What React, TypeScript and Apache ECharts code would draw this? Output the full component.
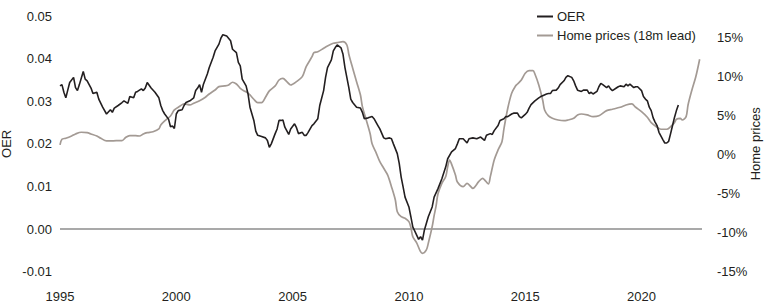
import React, { useEffect, useRef } from "react";
import * as echarts from "echarts";

// OER (left axis)
const oerDates = [
  "1995-01","1995-02","1995-03","1995-04","1995-05","1995-06","1995-08","1995-09","1995-10","1995-11",
  "1996-01","1996-02","1996-03","1996-05","1996-06","1996-08","1996-09","1996-11",
  "1997-01","1997-03","1997-04","1997-05","1997-07","1997-09","1997-10","1997-12",
  "1998-01","1998-03","1998-04","1998-05","1998-07","1998-08","1998-09","1998-10","1998-12",
  "1999-02","1999-04","1999-05","1999-06","1999-07","1999-09","1999-10","1999-11","1999-12",
  "2000-01","2000-02","2000-04","2000-05","2000-06","2000-08","2000-10","2000-11","2000-12",
  "2001-01","2001-02","2001-03","2001-05","2001-06","2001-08","2001-09","2001-11","2001-12",
  "2002-01","2002-03","2002-05","2002-06","2002-08","2002-09","2002-10","2002-11",
  "2003-01","2003-02","2003-03","2003-05","2003-06","2003-07","2003-09","2003-11","2003-12",
  "2004-01","2004-02","2004-04","2004-05","2004-06","2004-07","2004-08","2004-09","2004-11","2004-12",
  "2005-02","2005-03","2005-04","2005-06","2005-07","2005-08","2005-09","2005-11","2005-12",
  "2006-02","2006-03","2006-05","2006-06","2006-07","2006-09","2006-10","2006-11","2006-12",
  "2007-02","2007-03","2007-04","2007-06","2007-07","2007-08","2007-10","2007-12",
  "2008-01","2008-02","2008-04","2008-06","2008-07","2008-09","2008-10","2008-12",
  "2009-01","2009-03","2009-04","2009-05","2009-07","2009-08","2009-09","2009-10","2009-11",
  "2010-01","2010-02","2010-03","2010-05","2010-06","2010-07","2010-08","2010-09","2010-11",
  "2011-01","2011-02","2011-04","2011-06","2011-08","2011-09","2011-11",
  "2012-01","2012-02","2012-03","2012-05","2012-07","2012-08","2012-10","2012-12",
  "2013-02","2013-04","2013-05","2013-07","2013-08","2013-09","2013-11","2013-12",
  "2014-02","2014-03","2014-04","2014-06","2014-07","2014-09","2014-10","2014-11",
  "2015-01","2015-02","2015-03","2015-04","2015-06","2015-08","2015-09","2015-10","2015-12",
  "2016-01","2016-02","2016-03","2016-05","2016-06","2016-07","2016-09","2016-10","2016-11",
  "2017-01","2017-02","2017-03","2017-04","2017-06","2017-07","2017-09","2017-10","2017-11","2017-12",
  "2018-02","2018-03","2018-04","2018-05","2018-07","2018-08","2018-09","2018-10","2018-12",
  "2019-01","2019-02","2019-04","2019-05","2019-06","2019-07","2019-09","2019-10","2019-11",
  "2020-01","2020-02","2020-03","2020-04","2020-05","2020-06","2020-07","2020-08","2020-09","2020-10","2020-12",
  "2021-01","2021-02","2021-03","2021-04","2021-05","2021-06","2021-07","2021-08"
];
const oerValues = [
  0.0336,0.0339,0.0321,0.0308,0.0326,0.0344,0.0356,0.0332,0.0325,0.0339,
  0.0370,0.0352,0.0348,0.0331,0.0318,0.0321,0.0305,0.0286,
  0.0270,0.0280,0.0274,0.0284,0.0290,0.0297,0.0301,0.0295,
  0.0311,0.0308,0.0321,0.0323,0.0329,0.0325,0.0331,0.0344,0.0331,
  0.0321,0.0308,0.0290,0.0278,0.0270,0.0258,0.0240,0.0242,0.0236,
  0.0270,0.0278,0.0280,0.0290,0.0297,0.0301,0.0308,0.0325,0.0331,
  0.0339,0.0321,0.0340,0.0364,0.0379,0.0403,0.0418,0.0434,0.0448,
  0.0456,0.0453,0.0442,0.0422,0.0414,0.0391,0.0383,0.0352,
  0.0336,0.0317,0.0286,0.0255,0.0230,0.0220,0.0217,0.0214,0.0208,
  0.0192,0.0200,0.0224,0.0235,0.0255,0.0255,0.0256,0.0239,0.0222,0.0235,
  0.0247,0.0238,0.0224,0.0227,0.0220,0.0220,0.0227,0.0243,0.0247,
  0.0259,0.0290,0.0325,0.0356,0.0379,0.0397,0.0418,0.0426,0.0432,
  0.0425,0.0410,0.0379,0.0332,0.0305,0.0297,0.0286,0.0284,
  0.0274,0.0259,0.0261,0.0264,0.0259,0.0243,0.0235,0.0214,
  0.0212,0.0214,0.0212,0.0200,0.0177,0.0154,0.0122,0.0099,0.0075,
  0.0052,0.0029,0.0005,-0.0014,-0.0024,-0.0018,-0.0026,-0.0002,0.0029,
  0.0052,0.0075,0.0095,0.0118,0.0146,0.0165,0.0181,
  0.0189,0.0200,0.0212,0.0212,0.0202,0.0212,0.0214,0.0212,
  0.0216,0.0208,0.0220,0.0224,0.0222,0.0231,0.0243,0.0255,
  0.0259,0.0264,0.0264,0.0270,0.0272,0.0272,0.0264,0.0261,
  0.0269,0.0274,0.0284,0.0292,0.0301,0.0308,0.0311,0.0313,0.0317,
  0.0318,0.0318,0.0325,0.0326,0.0331,0.0339,0.0348,0.0356,0.0360,
  0.0356,0.0348,0.0336,0.0326,0.0323,0.0326,0.0326,0.0318,0.0321,0.0317,
  0.0323,0.0334,0.0342,0.0339,0.0332,0.0336,0.0329,0.0325,0.0331,
  0.0334,0.0336,0.0334,0.0340,0.0336,0.0340,0.0332,0.0334,0.0334,
  0.0325,0.0311,0.0305,0.0301,0.0286,0.0278,0.0261,0.0251,0.0243,0.0227,0.0210,
  0.0202,0.0202,0.0206,0.0224,0.0243,0.0262,0.0278,0.0291
];

// Home prices, 18m lead (right axis, %)
const homeDates = [
  "1995-01","1995-02","1995-04","1995-07","1995-09","1995-12","1996-03","1996-05","1996-08","1996-10",
  "1997-01","1997-03","1997-06","1997-09","1997-11","1998-01","1998-04","1998-06","1998-08","1998-10",
  "1999-01","1999-04","1999-05","1999-07","1999-10","1999-12","2000-03","2000-05","2000-08","2000-10",
  "2001-01","2001-04","2001-06","2001-09","2001-11","2002-02","2002-04","2002-06","2002-08","2002-10","2002-12",
  "2003-01","2003-03","2003-05","2003-07","2003-09","2003-11","2004-01","2004-04","2004-06","2004-08","2004-10","2004-12",
  "2005-03","2005-06","2005-08","2005-11","2005-12","2006-02","2006-05","2006-07","2006-10","2006-12",
  "2007-03","2007-05","2007-06","2007-08","2007-10","2007-12","2008-01","2008-03","2008-05","2008-06","2008-08","2008-10","2008-12",
  "2009-02","2009-04","2009-06","2009-07","2009-09","2009-11","2010-01","2010-02","2010-03","2010-05","2010-07","2010-08","2010-10","2010-11",
  "2011-01","2011-02","2011-03","2011-04","2011-06","2011-08","2011-09","2011-10","2011-11",
  "2012-01","2012-02","2012-05","2012-07","2012-10","2013-01","2013-03","2013-06","2013-07","2013-09","2013-11",
  "2014-01","2014-02","2014-04","2014-06","2014-08","2014-09","2014-11","2015-01","2015-03","2015-05","2015-06","2015-08","2015-10","2015-11",
  "2016-01","2016-03","2016-06","2016-09","2016-11","2017-02","2017-04","2017-06","2017-09","2017-12",
  "2018-03","2018-07","2018-10","2019-02","2019-05","2019-08","2019-10","2020-01","2020-04","2020-06","2020-09","2020-11",
  "2021-02","2021-04","2021-06","2021-07","2021-09","2021-10","2021-12","2022-01","2022-03","2022-05","2022-07"
];
const homeValues = [
  1.26,1.99,2.12,2.41,2.67,2.89,2.83,2.67,2.41,2.12,
  1.77,1.77,1.81,1.81,2.24,2.45,2.45,2.41,2.67,2.83,
  2.96,3.31,3.82,4.35,4.98,5.75,6.26,6.52,6.39,6.61,
  6.94,7.38,7.80,8.31,8.74,8.83,8.95,9.30,9.08,8.53,8.18,
  8.09,7.67,7.12,6.68,6.68,7.38,8.2,8.83,9.59,9.81,9.38,8.95,
  9.38,10.02,11.3,12.58,13.1,13.22,13.66,13.96,14.3,14.38,
  14.51,14.08,12.9,11.1,9.38,7.67,6.17,4.46,2.7,1.4,0.3,-0.89,-1.73,
  -2.59,-4.09,-5.8,-7.3,-7.94,-8.15,-8.58,-9.3,-10.5,-11.3,-12.43,-12.64,-12.2,-11.35,
  -9.22,-7.8,-6.6,-5.0,-3.66,-2.8,-1.53,-0.67,-1.2,
  -2.59,-3.5,-4.09,-3.66,-4.3,-3.45,-3.02,-3.75,-2.81,-0.67,0.62,
  1.68,3.3,5.96,7.89,8.83,9.08,9.59,10.45,10.79,10.79,10.36,8.95,7.03,5.75,
  4.98,4.68,4.46,4.37,4.46,4.68,5.11,5.23,5.11,4.89,
  5.0,5.66,5.84,6.09,6.39,6.52,6.09,5.53,4.81,4.12,3.53,3.27,
  3.27,3.6,4.12,4.55,4.68,4.46,4.89,6.39,8.31,10.0,12.25
];

const oerTicks = [-0.01, 0, 0.01, 0.02, 0.03, 0.04, 0.05];
const homeTicks = [-15, -10, -5, 0, 5, 10, 15];
const yearTicks = [1995, 2000, 2005, 2010, 2015, 2020];

const toYear = (s: string) => +s.slice(0, 4) + (+s.slice(5, 7) - 1) / 12;

const FONT = "'Liberation Sans', Arial, sans-serif";
const TXT = "#231f20";

export default function App() {
  const ref = useRef<HTMLDivElement>(null);
  useEffect(() => {
    if (!ref.current) return;
    const chart = echarts.init(ref.current, null, { renderer: "svg" });
    const textStyle = { color: TXT, fontSize: 13, fontFamily: FONT };
    chart.setOption({
      animation: false,
      textStyle: { fontFamily: FONT },
      grid: { left: 60, right: 63, top: 16, bottom: 36.3, containLabel: false, outerBoundsMode: "none" },
      legend: {
        orient: "vertical",
        left: 532,
        top: 5,
        itemWidth: 16,
        itemHeight: 2,
        itemGap: 6,
        icon: "rect",
        textStyle: { ...textStyle, padding: [0, 0, 0, -1] },
        data: ["OER", "Home prices (18m lead)"],
      },
      xAxis: {
        type: "value",
        min: yearTicks[0],
        max: 2022.6,
        interval: 5,
        axisLine: { show: false },
        axisTick: { show: false },
        splitLine: { show: false },
        axisLabel: {
          ...textStyle,
          margin: 18,
          showMaxLabel: false,
          formatter: (v: number) => (yearTicks.includes(Math.round(v)) && Math.abs(v - Math.round(v)) < 1e-6 ? String(Math.round(v)) : ""),
        },
      },
      yAxis: [
        {
          type: "value",
          position: "left",
          min: oerTicks[0],
          max: oerTicks[oerTicks.length - 1],
          interval: 0.01,
          name: "OER",
          nameLocation: "middle",
          nameGap: 47,
          nameRotate: 90,
          nameMoveOverlap: false,
          nameTextStyle: textStyle,
          axisLine: { show: false },
          axisTick: { show: false },
          splitLine: { show: false },
          axisLabel: { ...textStyle, margin: 8, formatter: (v: number) => v.toFixed(2) },
        },
        {
          type: "value",
          position: "right",
          min: homeTicks[0],
          max: 17.8,
          interval: 5,
          name: "Home prices",
          nameLocation: "middle",
          nameGap: 47,
          nameRotate: 90,
          nameMoveOverlap: false,
          nameTextStyle: textStyle,
          axisLine: { show: false },
          axisTick: { show: false },
          splitLine: { show: false },
          axisLabel: {
            ...textStyle,
            margin: 15,
            showMaxLabel: false,
            formatter: (v: number) => (homeTicks.includes(Math.round(v)) && Math.abs(v - Math.round(v)) < 1e-6 ? `${Math.round(v)}%` : ""),
          },
        },
      ],
      series: [
        {
          name: "Home prices (18m lead)",
          type: "line",
          yAxisIndex: 1,
          showSymbol: false,
          smooth: 0.3,
          color: "#a39a94",
          lineStyle: { color: "#a39a94", width: 1.7 },
          data: homeDates.map((d, i) => [toYear(d), homeValues[i]]),
          z: 2,
        },
        {
          name: "OER",
          type: "line",
          yAxisIndex: 0,
          showSymbol: false,
          color: "#231f20",
          lineStyle: { color: "#231f20", width: 1.6 },
          data: oerDates.map((d, i) => [toYear(d), oerValues[i]]),
          z: 3,
          markLine: {
            silent: true,
            symbol: "none",
            label: { show: false },
            lineStyle: { color: "#8c8c8c", width: 1.5, type: "solid" },
            data: [{ yAxis: 0 }],
            z: 1,
          },
        },
      ],
    });
    return () => chart.dispose();
  }, []);
  return <div ref={ref} style={{ width: 765, height: 308, position: "absolute", left: 0, top: 0 }} />;
}
